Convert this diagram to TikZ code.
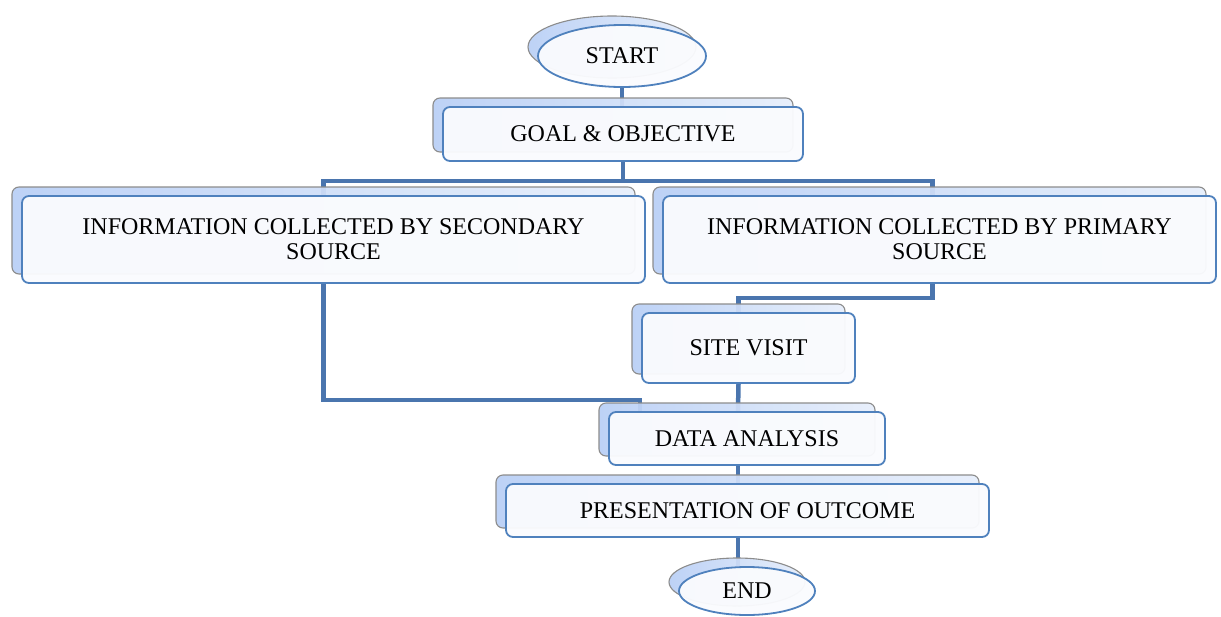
\documentclass[tikz,border=0pt]{standalone}
\usepackage{fontspec}
\setmainfont{Liberation Serif}
\usepackage{tikz}
\usetikzlibrary{shapes.geometric, shadows, backgrounds}

\definecolor{flowline}{RGB}{74,117,174}
\definecolor{frontline}{RGB}{79,129,189}
\definecolor{backline}{RGB}{140,140,140}
\definecolor{backleft}{RGB}{185,207,245}
\definecolor{backright}{RGB}{230,238,251}
\definecolor{frontfill}{RGB}{250,251,254}

\tikzset{
  stage/.style={draw=frontline, line width=1.8pt, fill=frontfill, fill opacity=0.96,
    text opacity=1, rounded corners=7pt, align=center,
    font=\fontsize{24}{25}\selectfont,
    general shadow={shadow xshift=-10pt, shadow yshift=9pt, draw=backline,
      line width=1.1pt, left color=backleft, right color=backright, fill opacity=0.94}},
  terminal/.style={stage, ellipse, rounded corners=0pt},
  flow/.style={draw=flowline, line width=4.5pt}
}

\begin{document}
\begin{tikzpicture}[x=1pt, y=-1pt]
  \useasboundingbox (0,0) rectangle (1221,616);

  % Start and goal
  \node[terminal, minimum width=168, minimum height=62] (start) at (622,56) {START};
  \node[stage, minimum width=360, minimum height=54] (goal) at (623,134) {GOAL \& OBJECTIVE};

  % The two sources
  \node[stage, minimum width=623, minimum height=87] (secondary) at (333.5,239.5)
    {INFORMATION COLLECTED BY SECONDARY\\SOURCE};
  \node[stage, minimum width=553, minimum height=87] (primary) at (939.5,239.5)
    {INFORMATION COLLECTED BY PRIMARY\\SOURCE};

  % Site visit, analysis and outcome
  \node[stage, minimum width=213, minimum height=70] (site) at (748.5,348) {SITE VISIT};
  \node[stage, minimum width=276, minimum height=53] (analysis) at (747,438.5) {DATA ANALYSIS};
  \node[stage, minimum width=483, minimum height=53] (outcome) at (747.5,510.5) {PRESENTATION OF OUTCOME};
  \node[terminal, minimum width=136, minimum height=48] (end) at (747,591) {END};

  % Connectors, kept behind the boxes
  \begin{scope}[on background layer]
    \draw[flow] (start.south) -- (start.south |- goal.north);
    \draw[flow] (goal.south) -- ++(0,19) -| ([xshift=-10pt]secondary.north);
    \draw[flow] (goal.south) -- ++(0,19) -| ([xshift=-7pt]primary.north);
    \draw[flow] ([xshift=-7pt]primary.south) -- ++(0,14) -| ([xshift=-10pt]site.north);
    \draw[flow] ([xshift=-10pt]secondary.south) -- ++(0,116) -| ([xshift=-107pt]analysis.north);
    \draw[flow] ([xshift=-10pt]site.south) -- ([xshift=-9pt]analysis.north);
    \draw[flow] ([xshift=-9pt]analysis.south) -- ([xshift=-9.5pt]outcome.north);
    \draw[flow] ([xshift=-9.5pt]outcome.south) -- ([xshift=-9pt]end.north);
  \end{scope}
\end{tikzpicture}
\end{document}
